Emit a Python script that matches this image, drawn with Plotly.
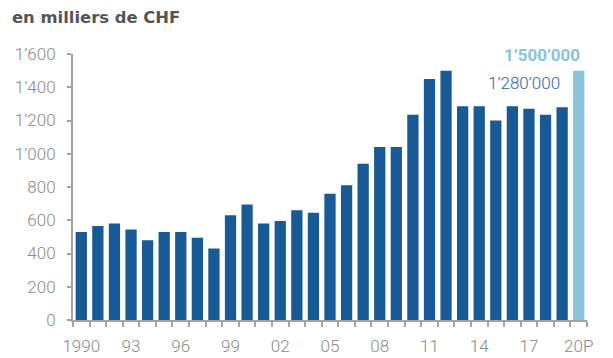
import plotly.graph_objects as go

years = list(range(1990, 2021))
values = [530, 565, 580, 545, 480, 530, 530, 495, 430, 630, 695, 580, 595, 660, 645,
          760, 810, 940, 1040, 1040, 1235, 1450, 1500, 1285, 1285, 1200, 1285, 1270, 1235, 1280, 1500]
x_labels = ["1990", "93", "96", "99", "02", "05", "08", "11", "14", "17", "20P"]
y_ticks = [0, 200, 400, 600, 800, 1000, 1200, 1400, 1600]

DARK = "#175a95"
LIGHT = "#89c3dc"
GRAY = "#8a8a8a"
AXIS = "#a3a3a3"

def fmt(v):
    return f"{v:,}".replace(",", "’")

idx = list(range(len(years)))
colors = [DARK] * (len(years) - 1) + [LIGHT]

fig = go.Figure()
fig.add_trace(go.Bar(x=idx, y=values, marker=dict(color=colors, line=dict(width=0)),
                     width=0.68, hoverinfo="skip"))

label_pos = [i for i in idx if i % 3 == 0]
# page body has an 8px margin: figure is offset by 8px, so size/margins compensate
fig.update_layout(
    width=605, height=350,
    margin=dict(l=65, r=26, t=46, b=38, autoexpand=False),
    paper_bgcolor="white", plot_bgcolor="white",
    showlegend=False,
    font=dict(family="Roboto", color=GRAY, size=16),
    xaxis=dict(
        range=[-0.5, len(years) - 0.5],
        tickvals=label_pos, ticktext=x_labels,
        ticks="", showgrid=False, zeroline=False, automargin=False,
        showline=True, linecolor=AXIS, linewidth=2,
        tickfont=dict(family="Roboto", size=17, color=GRAY, weight=300),
        ticklabelstandoff=10,
        minor=dict(tick0=0.5, dtick=1, ticks="outside", ticklen=5, tickwidth=2,
                   tickcolor=AXIS, showgrid=False),
    ),
    yaxis=dict(
        range=[0, 1600], automargin=False,
        tickvals=y_ticks, ticktext=[fmt(v) for v in y_ticks],
        ticks="outside", ticklen=4, tickwidth=2, tickcolor=AXIS,
        showgrid=False, zeroline=False,
        showline=True, linecolor=AXIS, linewidth=2,
        tickfont=dict(family="Roboto", size=17, color=GRAY, weight=300),
        ticklabelstandoff=8,
    ),
    annotations=[
        dict(text="<b>en milliers de CHF</b>", xref="paper", yref="paper",
             x=-63/514, y=1 + 36/266, xanchor="left", yanchor="middle",
             showarrow=False, font=dict(family="DejaVu Sans", size=16.4, color="#555555")),
        dict(text="<b>" + fmt(values[-1] * 1000) + "</b>", xref="x", yref="y",
             x=idx[-1] + 0.2, y=values[-1], xanchor="right", yanchor="bottom", yshift=4,
             showarrow=False, font=dict(family="Roboto", size=17, color=LIGHT)),
        dict(text=fmt(values[-2] * 1000), xref="x", yref="y",
             x=idx[-2], y=values[-2], xanchor="right", yanchor="bottom", yshift=12,
             showarrow=False, font=dict(family="Roboto", size=17, color="#2c66a2", weight=300)),
    ],
)

fig.write_html("out.html")
